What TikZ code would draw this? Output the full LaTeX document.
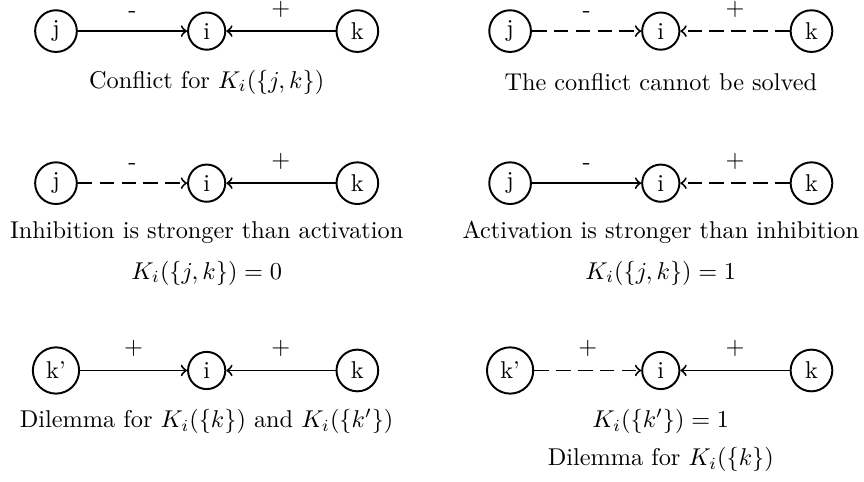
\documentclass[tikz,border=0pt]{standalone}
\begin{document}
\begin{tikzpicture}[
    state/.style={circle,draw,thick,inner sep=3pt},
    act/.style={->,thick},
    weak/.style={->,thick,dash pattern=on 6pt off 3pt},
    sign/.style={above=3pt,inner sep=2.3pt}
]
    \useasboundingbox (0,0) rectangle (12.5,-6.96);
    % conflict
    \node[state] (j1) at (.81,-.45) {j};
    \node[state] (i1) at (2.99,-.45) {i};
    \node[state] (k1) at (5.17,-.45) {k};
    \draw[act] (j1) -- node[sign] (m1) {-} (i1);
    \draw[act] (k1) -- node[sign] (p1) {+} (i1);
    \node (c1) at (2.99,-1.19) {Conflict for $K_i(\{j,k\})$};
    % cannot be solved
    \node[state] (j2) at (7.38,-.45) {j};
    \node[state] (i2) at (9.56,-.45) {i};
    \node[state] (k2) at (11.74,-.45) {k};
    \draw[weak] (j2) -- node[sign] (m2) {-} (i2);
    \draw[weak] (k2) -- node[sign] (p2) {+} (i2);
    \node (c2) at (9.56,-1.19) {The conflict cannot be solved};
    % inhibition wins
    \node[state] (j3) at (.81,-2.65) {j};
    \node[state] (i3) at (2.99,-2.65) {i};
    \node[state] (k3) at (5.17,-2.65) {k};
    \draw[weak] (j3) -- node[sign] (m3) {-} (i3);
    \draw[act] (k3) -- node[sign] (p3) {+} (i3);
    \node (c3) at (2.99,-3.36) {Inhibition is stronger than activation};
    \node (d3) at (2.99,-3.95) {$K_i(\{j,k\})=0$};
    % activation wins
    \node[state] (j4) at (7.38,-2.65) {j};
    \node[state] (i4) at (9.56,-2.65) {i};
    \node[state] (k4) at (11.74,-2.65) {k};
    \draw[act] (j4) -- node[sign] (m4) {-} (i4);
    \draw[weak] (k4) -- node[sign] (p4) {+} (i4);
    \node (c4) at (9.56,-3.36) {Activation is stronger than inhibition};
    \node (d4) at (9.56,-3.95) {$K_i(\{j,k\})=1$};
    % dilemma
    \node[state] (l5) at (.81,-5.36) {k'};
    \node[state] (i5) at (2.99,-5.36) {i};
    \node[state] (k5) at (5.17,-5.36) {k};
    \draw[act] (l5) -- node[sign] (q5) {+} (i5);
    \draw[act] (k5) -- node[sign] (p5) {+} (i5);
    \node (c5) at (2.99,-6.1) {Dilemma for $K_i(\{k\})$ and $K_i(\{k'\})$};
    % dilemma for k only
    \node[state] (l6) at (7.38,-5.36) {k'};
    \node[state] (i6) at (9.56,-5.36) {i};
    \node[state] (k6) at (11.74,-5.36) {k};
    \draw[weak] (l6) -- node[sign] (q6) {+} (i6);
    \draw[act] (k6) -- node[sign] (p6) {+} (i6);
    \node (c6) at (9.56,-6.1) {$K_i(\{k'\})=1$};
    \node (d6) at (9.56,-6.65) {Dilemma for $K_i(\{k\})$};
\end{tikzpicture}
\end{document}
